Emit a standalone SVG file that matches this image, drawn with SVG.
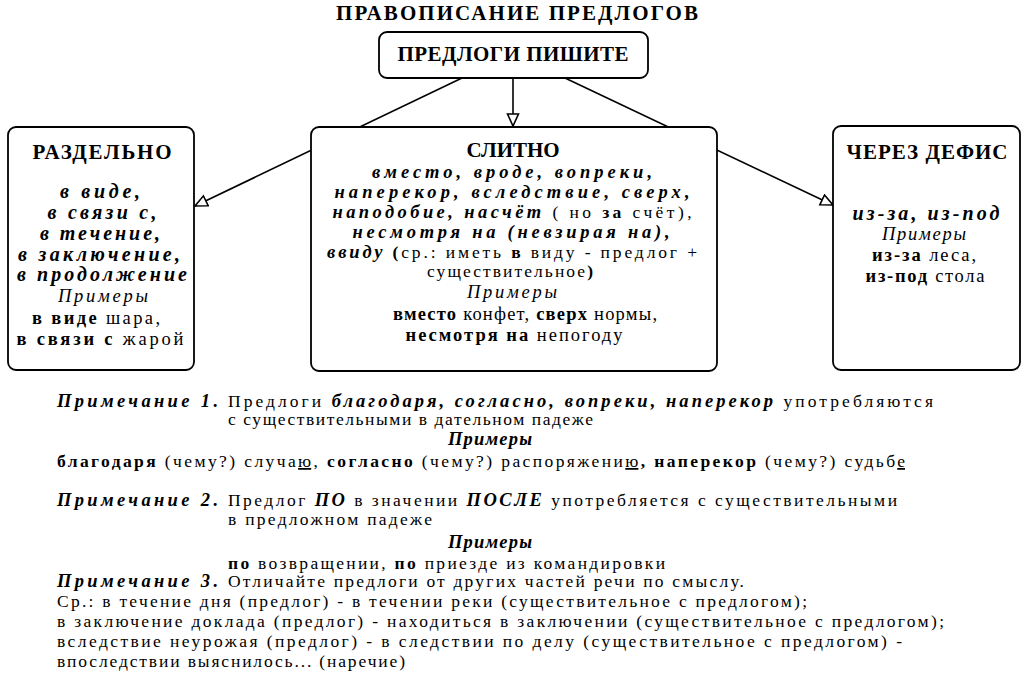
<svg xmlns="http://www.w3.org/2000/svg" width="1024" height="679" viewBox="0 0 1024 679">
<defs>
<marker id="open" markerWidth="16" markerHeight="14" refX="13" refY="6.5" orient="auto" markerUnits="userSpaceOnUse">
<path d="M1,1 L13,6.5 L1,12 Z" fill="#fff" stroke="#000" stroke-width="1.6"/>
</marker>
<style>
text{font-family:"Liberation Serif","Times New Roman",serif;fill:#000}
.h{font-size:21px;font-weight:bold}
.bi{font-size:20px;font-weight:bold;font-style:italic}
.bc{font-size:18.5px;font-weight:bold;font-style:italic}
.r{font-size:18.5px}
.it{font-size:18.5px;font-style:italic}
.b{font-weight:bold}
.n{font-size:17.5px}
.nb{font-size:18.5px;font-weight:bold;font-style:italic}
.box{fill:#fff;stroke:#000;stroke-width:1.8}
.con{stroke:#000;stroke-width:1.6;fill:none}
.m{text-anchor:middle}
.u{text-decoration:underline}
</style>
</defs>
<rect width="1024" height="679" fill="#fff"/>
<text id="title" class="h m" x="517" y="20" font-size="23" textLength="362" lengthAdjust="spacing">ПРАВОПИСАНИЕ ПРЕДЛОГОВ</text>

<g id="connectors">
<line class="con" x1="462" y1="78" x2="195" y2="206" marker-end="url(#open)"/>
<line class="con" x1="513" y1="78" x2="513" y2="126" marker-end="url(#open)"/>
<line class="con" x1="565" y1="78" x2="833" y2="205" marker-end="url(#open)"/>
</g>

<g id="top">
<rect class="box" x="379" y="32" width="269" height="46" rx="8"/>
<text class="h m" x="513" y="61" font-size="22" textLength="231" lengthAdjust="spacing">ПРЕДЛОГИ ПИШИТЕ</text>
</g>

<g id="separately">
<rect class="box" x="8" y="127" width="186" height="243" rx="8"/>
<text class="h m" x="102" y="159" textLength="139" lengthAdjust="spacing">РАЗДЕЛЬНО</text>
<text class="bi m" x="100" y="198" textLength="80" lengthAdjust="spacing">в виде,</text>
<text class="bi m" x="102" y="219" textLength="109" lengthAdjust="spacing">в связи с,</text>
<text class="bi m" x="100" y="240" textLength="120" lengthAdjust="spacing">в течение,</text>
<text class="bi m" x="99" y="261" textLength="162" lengthAdjust="spacing">в заключение,</text>
<text class="bi m" x="102" y="281" textLength="170" lengthAdjust="spacing">в продолжение</text>
<text class="it m" x="103" y="302" textLength="90" lengthAdjust="spacing">Примеры</text>
<text class="r m" x="96" y="324" textLength="128" lengthAdjust="spacing"><tspan class="b">в виде</tspan> шара,</text>
<text class="r m" x="100" y="345" textLength="167" lengthAdjust="spacing"><tspan class="b">в связи с</tspan> жарой</text>
</g>

<g id="together">
<rect class="box" x="311" y="127" width="406" height="244" rx="8"/>
<text class="h m" x="513" y="157" font-size="18.5" textLength="93" lengthAdjust="spacing">СЛИТНО</text>
<text class="bc m" x="512" y="178" textLength="280" lengthAdjust="spacing">вместо, вроде, вопреки,</text>
<text class="bc m" x="512" y="198" textLength="355" lengthAdjust="spacing">наперекор, вследствие, сверх,</text>
<text class="bc m" x="512" y="218" textLength="359" lengthAdjust="spacing">наподобие, насчёт<tspan font-size="17.5" font-style="normal" font-weight="normal"> ( но <tspan class="b">за</tspan> счёт),</tspan></text>
<text class="bc m" x="511" y="238" textLength="317" lengthAdjust="spacing">несмотря на (невзирая на),</text>
<text class="bc m" x="512" y="258" textLength="370" lengthAdjust="spacing">ввиду<tspan font-size="17.5" font-style="normal"> (<tspan font-weight="normal">ср.: иметь </tspan>в<tspan font-weight="normal"> виду - предлог +</tspan></tspan></text>
<text class="m" font-size="17.5" x="510" y="277" textLength="166" lengthAdjust="spacing">существительное<tspan class="b">)</tspan></text>
<text class="it m" x="512" y="298" textLength="90" lengthAdjust="spacing">Примеры</text>
<text class="r m" x="525" y="320" textLength="264" lengthAdjust="spacing"><tspan class="b">вместо</tspan> конфет, <tspan class="b">сверх</tspan> нормы,</text>
<text class="r m" x="514" y="341" textLength="217" lengthAdjust="spacing"><tspan class="b">несмотря на</tspan> непогоду</text>
</g>

<g id="hyphen">
<rect class="box" x="833" y="126" width="187" height="244" rx="8"/>
<text class="h m" x="927" y="159" textLength="161" lengthAdjust="spacing">ЧЕРЕЗ ДЕФИС</text>
<text class="bi m" x="926" y="220" textLength="147" lengthAdjust="spacing">из-за, из-под</text>
<text class="it m" x="924" y="240" textLength="84" lengthAdjust="spacing">Примеры</text>
<text class="r m" x="924" y="261" textLength="104" lengthAdjust="spacing"><tspan class="b">из-за</tspan> леса,</text>
<text class="r m" x="925" y="282" textLength="119" lengthAdjust="spacing"><tspan class="b">из-под</tspan> стола</text>
</g>

<g id="note1">
<text class="nb" x="57" y="407" textLength="161" lengthAdjust="spacing">Примечание 1.</text>
<text class="n" x="228" y="407" textLength="705" lengthAdjust="spacing">Предлоги <tspan class="nb">благодаря, согласно, вопреки, наперекор</tspan> употребляются</text>
<text class="n" x="228" y="425" textLength="365" lengthAdjust="spacing">с существительными в дательном падеже</text>
<text class="nb" x="448" y="445" textLength="84" lengthAdjust="spacing">Примеры</text>
<text class="n" x="57" y="467" textLength="848" lengthAdjust="spacing"><tspan class="b">благодаря</tspan> (чему?) случа<tspan class="u">ю</tspan>, <tspan class="b">согласно</tspan> (чему?) распоряжени<tspan class="u">ю</tspan><tspan class="b">,</tspan> <tspan class="b">наперекор</tspan> (чему?) судьб<tspan class="u">е</tspan></text>
</g>

<g id="note2">
<text class="nb" x="57" y="506" textLength="161" lengthAdjust="spacing">Примечание 2.</text>
<text class="n" x="228" y="506" textLength="669" lengthAdjust="spacing">Предлог <tspan class="nb" font-size="19.5">ПО</tspan> в значении <tspan class="nb" font-size="19.5">ПОСЛЕ</tspan> употребляется с существительными</text>
<text class="n" x="228" y="525" textLength="204" lengthAdjust="spacing">в предложном падеже</text>
<text class="nb" x="448" y="548" textLength="84" lengthAdjust="spacing">Примеры</text>
<text class="n" x="228" y="569" textLength="437" lengthAdjust="spacing"><tspan class="b">по</tspan> возвращении, <tspan class="b">по</tspan> приезде из командировки</text>
</g>

<g id="note3">
<text class="nb" x="57" y="587" textLength="161" lengthAdjust="spacing">Примечание 3.</text>
<text class="n" x="228" y="587" textLength="516" lengthAdjust="spacing">Отличайте предлоги от других частей речи по смыслу.</text>
<text class="n" x="57" y="607" textLength="750" lengthAdjust="spacing">Ср.: в течение дня (предлог) - в течении реки (существительное с предлогом);</text>
<text class="n" x="57" y="627" textLength="887" lengthAdjust="spacing">в заключение доклада (предлог) - находиться в заключении (существительное с предлогом);</text>
<text class="n" x="57" y="647" textLength="845" lengthAdjust="spacing">вследствие неурожая (предлог) - в следствии по делу (существительное с предлогом) -</text>
<text class="n" x="57" y="667" textLength="348" lengthAdjust="spacing">впоследствии выяснилось... (наречие)</text>
</g>
</svg>
